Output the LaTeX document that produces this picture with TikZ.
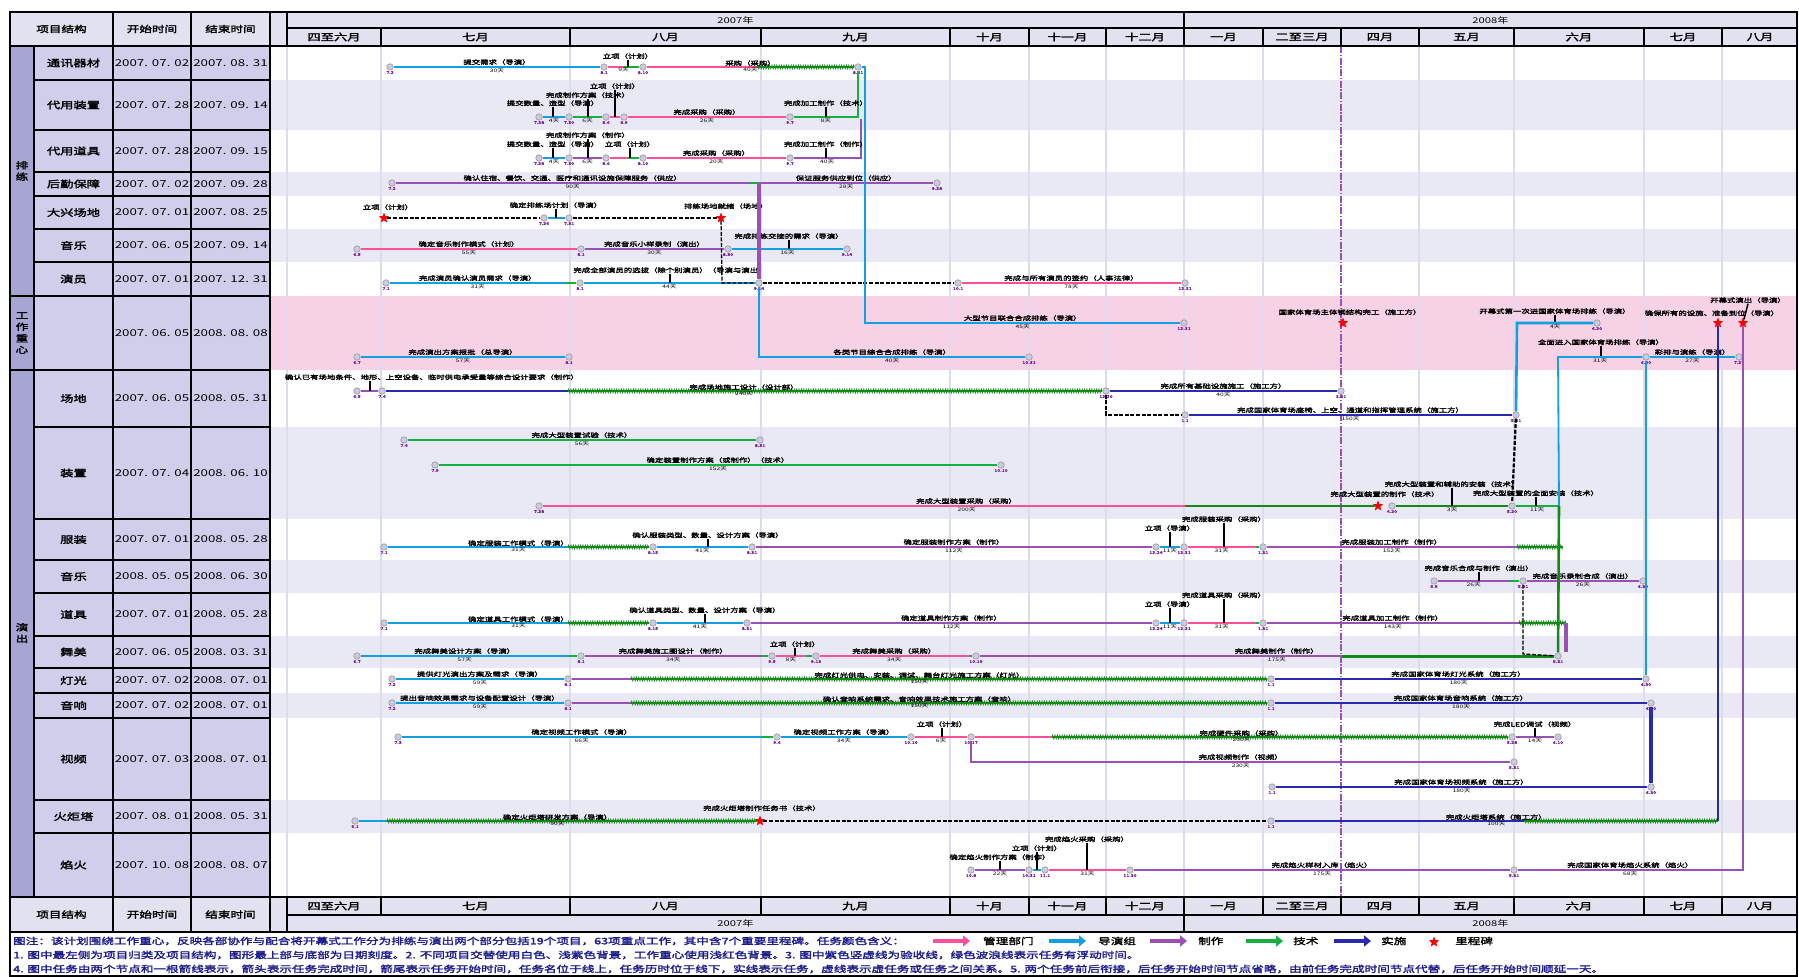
\documentclass[tikz,border=0pt]{standalone}
\usepackage{fontspec}
\setmainfont{Noto Sans CJK SC}[FakeStretch=1.4,AutoFakeBold=2.2]
\usetikzlibrary{shapes.geometric,decorations.pathmorphing,arrows.meta}
\definecolor{cpink}{HTML}{FF4F98}
\definecolor{cblue}{HTML}{12A0E0}
\definecolor{cpur}{HTML}{9B50B3}
\definecolor{cgrn}{HTML}{14B040}
\definecolor{zgrn}{HTML}{118A18}
\definecolor{cnavy}{HTML}{2A2AB0}
\definecolor{stripe}{HTML}{E9E9F5}
\definecolor{wcbg}{HTML}{F6D2E4}
\definecolor{cellc}{HTML}{CFCFEC}
\definecolor{grpc}{HTML}{A6A6D3}
\definecolor{hdrc}{HTML}{E1E1EF}
\definecolor{gridc}{HTML}{DCDCEE}
\definecolor{evtc}{HTML}{CACAE2}
\definecolor{dtc}{HTML}{7A1A9A}
\definecolor{legc}{HTML}{1C1C8C}
\tikzset{
  tl/.style={line width=2.6pt},
  evt/.style={circle,draw=gray!80,fill=evtc,inner sep=0pt,minimum size=6.5pt,line width=0.6pt},
  dt/.style={font=\fontsize{3.8}{4}\selectfont\bfseries,text=dtc,anchor=north,inner sep=0.4pt},
  nm/.style={font=\fontsize{6}{6}\selectfont\bfseries,above=0.3pt,inner sep=0.4pt,text=black},
  du/.style={font=\fontsize{4.8}{5}\selectfont,below=0.6pt,inner sep=0.4pt,text=black},
  stem/.style={line width=1.5pt,black},
  ms/.style={star,star points=5,star point ratio=2.3,fill=red,draw=none,minimum size=11pt,inner sep=0pt},
  dsh/.style={black,line width=1.8pt,dash pattern=on 4pt off 1.6pt},
  fl/.style={draw=zgrn,line width=2.2pt,decoration={zigzag,segment length=2.4pt,amplitude=1.8pt},postaction={draw=zgrn,line width=0.8pt,decorate}},
  tbl/.style={line width=2.4pt,black},
  hl/.style={line width=1.8pt,black},
  gridl/.style={line width=1.6pt,gridc},
  rt/.style={font=\fontsize{9.5}{10}\selectfont\bfseries,inner sep=0pt},
  dtt/.style={font=\fontsize{9.5}{10}\selectfont,inner sep=0pt},
  ht/.style={font=\fontsize{9}{10}\selectfont\bfseries,inner sep=0pt},
  mt/.style={font=\fontsize{9.5}{10}\selectfont\bfseries,inner sep=0pt},
  yt/.style={font=\fontsize{8}{9}\selectfont,inner sep=0pt},
  gt/.style={font=\fontsize{9}{11.5}\selectfont\bfseries,align=center,inner sep=0pt},
  lg/.style={font=\fontsize{9}{10}\selectfont\bfseries,text=legc,inner sep=0pt,anchor=west},
  lgk/.style={font=\fontsize{9}{10}\selectfont\bfseries,text=black,inner sep=0pt,anchor=west},
  legar/.style={line width=4pt,-{Triangle[length=7pt,width=11pt]}}
}
\newcommand\EVT[4]{\node[evt] (#1) at (#2,#3) {}; \node[dt] (#1d) at (#1.south) {#4};}
\newcommand\TSK[5]{\draw[tl,draw=#3] (#1) -- node[nm]{#4} node[du]{#5} (#2);}
\newcommand\ZZ[2]{\draw[fl] (#1) -- (#2);}
\newcommand\LBL[4]{\path (#1) -- node[nm]{#3} node[du]{#4} (#2);}
\newcommand\STM[5]{\node[nm,anchor=south] (#1) at (#2,#4) {#5}; \draw[stem] (#1.south) -- (#2,#3);}
\newcommand\ROWT[5]{\node[rt] (#1n) at (73.5,#2) {#3}; \node[dtt] (#1s) at (152,#2) {#4}; \node[dtt] (#1e) at (230.5,#2) {#5};}
\begin{document}
\begin{tikzpicture}[x=1pt,y=-1pt]
\fill[white] (0,0) rectangle (1799,977);
\useasboundingbox (0,0) rectangle (1799,977);
% ---------- backgrounds
\fill[hdrc] (10,12) rectangle (1797,46);
\fill[hdrc] (10,897) rectangle (1797,932);
\fill[grpc] (10,46) rectangle (34,897);
\fill[cellc] (34,46) rectangle (270,897);
\foreach \a/\b in {80/130,172/196,229/262,427/519,560/593,636/668,693/718,800/833}
  \fill[stripe] (270,\a) rectangle (1797,\b);
\fill[wcbg] (270,296) rectangle (1797,370);
\foreach \x in {287,381,570,761,950,1029,1106,1184,1263,1419,1514,1644,1722}
  \draw[gridl] (\x,46) -- (\x,897);
\draw[cpur,line width=1.5pt,dash pattern=on 7pt off 1.5pt on 1.5pt off 1.5pt] (1341,46) -- (1341,897);
% ---------- table lines
\foreach \y in {46,80,130,172,196,229,262,296,370,427,519,560,593,636,668,693,718,800,833,897}
  \draw[tbl] (34,\y) -- (270,\y);
\foreach \y in {46,296,370,897} \draw[tbl] (10,\y) -- (34,\y);
\foreach \x in {10,34,113,191,270} \draw[tbl] (\x,46) -- (\x,897);
\draw[tbl] (10,12) -- (1797,12);
\foreach \x in {10,113,191,270,287} {\draw[tbl] (\x,12) -- (\x,46); \draw[tbl] (\x,897) -- (\x,932);}
\draw[tbl] (287,28) -- (1797,28);
\draw[tbl] (10,46) -- (1797,46);
\draw[tbl] (10,897) -- (1797,897);
\draw[tbl] (287,915) -- (1797,915);
\draw[tbl] (10,932) -- (1797,932);
\draw[tbl] (1184,12) -- (1184,28);
\draw[tbl] (1184,915) -- (1184,932);
\foreach \x in {381,570,761,950,1029,1106,1184,1263,1341,1419,1514,1644,1722}
  {\draw[hl] (\x,28) -- (\x,46); \draw[hl] (\x,897) -- (\x,915);}
\draw[line width=2.6pt] (10,12) rectangle (1797,976);
% ---------- header texts
\node[ht] (hx1) at (61.5,29) {项目结构};
\node[ht] (hx2) at (152,29) {开始时间};
\node[ht] (hx3) at (230.5,29) {结束时间};
\node[ht] (bx1) at (61.5,914.5) {项目结构};
\node[ht] (bx2) at (152,914.5) {开始时间};
\node[ht] (bx3) at (230.5,914.5) {结束时间};
\node[yt] (y7t) at (735.5,20) {2007年};
\node[yt] (y8t) at (1490.5,20) {2008年};
\node[yt] (y7b) at (735.5,923.5) {2007年};
\node[yt] (y8b) at (1490.5,923.5) {2008年};
\foreach \x/\m [count=\i] in {334/四至六月,475.5/七月,665.5/八月,855.5/九月,989.5/十月,1067.5/十一月,1145/十二月,1223.5/一月,1302/二至三月,1380/四月,1466.5/五月,1579/六月,1683/七月,1760/八月}
  {\node[mt] (mt\i) at (\x,37) {\m}; \node[mt] (mb\i) at (\x,906) {\m};}
% ---------- group labels
\node[gt] (gp1) at (22,171) {排\\练};
\node[gt] (gp2) at (22,333) {工\\作\\重\\心};
\node[gt] (gp3) at (22,633) {演\\出};
% ---------- rows
\ROWT{r01}{63}{通讯器材}{2007. 07. 02}{2007. 08. 31}
\ROWT{r02}{105}{代用装置}{2007. 07. 28}{2007. 09. 14}
\ROWT{r03}{151}{代用道具}{2007. 07. 28}{2007. 09. 15}
\ROWT{r04}{184}{后勤保障}{2007. 07. 02}{2007. 09. 28}
\ROWT{r05}{212.5}{大兴场地}{2007. 07. 01}{2007. 08. 25}
\ROWT{r06}{245.5}{音乐}{2007. 06. 05}{2007. 09. 14}
\ROWT{r07}{279}{演员}{2007. 07. 01}{2007. 12. 31}
\ROWT{r08}{333}{}{2007. 06. 05}{2008. 08. 08}
\ROWT{r09}{398.5}{场地}{2007. 06. 05}{2008. 05. 31}
\ROWT{r10}{473}{装置}{2007. 07. 04}{2008. 06. 10}
\ROWT{r11}{539.5}{服装}{2007. 07. 01}{2008. 05. 28}
\ROWT{r12}{576.5}{音乐}{2008. 05. 05}{2008. 06. 30}
\ROWT{r13}{614.5}{道具}{2007. 07. 01}{2008. 05. 28}
\ROWT{r14}{652}{舞美}{2007. 06. 05}{2008. 03. 31}
\ROWT{r15}{680.5}{灯光}{2007. 07. 02}{2008. 07. 01}
\ROWT{r16}{705.5}{音响}{2007. 07. 02}{2008. 07. 01}
\ROWT{r17}{759}{视频}{2007. 07. 03}{2008. 07. 01}
\ROWT{r18}{816.5}{火炬塔}{2007. 08. 01}{2008. 05. 31}
\ROWT{r19}{865}{焰火}{2007. 10. 08}{2008. 08. 07}
% ================= TASKS =================
% 通讯器材
\EVT{a1}{390}{67}{7.2}
\EVT{a2}{604}{67}{8.1}
\EVT{a3}{643}{67}{8.10}
\EVT{a4}{858}{67}{8.31}
\coordinate (a2x) at (624,67);
\coordinate (a3x) at (757,67);
\coordinate (a4r) at (865,67);
\TSK{a1}{a2}{cblue}{提交需求（导演）}{30天}
\draw[tl,cpink] (a2) -- (a2x); \draw[tl,cgrn] (a2x) -- (a3);
\path (a2) -- node[du]{9天} (a3);
\STM{a2s}{628}{67}{60}{立项（计划）}
\draw[tl,cpink] (a3) -- (a3x); \ZZ{a3x}{a4}; \LBL{a3}{a4}{采购（采购）}{40天}
% 代用装置
\EVT{b1}{539}{117}{7.28}
\EVT{b2}{569}{117}{7.30}
\EVT{b3}{606}{117}{8.6}
\EVT{b4}{624}{117}{8.9}
\EVT{b5}{790}{117}{9.7}
\coordinate (b6) at (858,117);
\draw[tl,cblue] (b1) -- node[du]{4天} (b2);
\draw[tl,cgrn] (b2) -- node[du]{6天} (b3);
\draw[tl,cpink] (b3) -- (b4);
\TSK{b4}{b5}{cpink}{完成采购（采购）}{26天}
\draw[tl,cgrn] (b5) -- node[du]{8天} (b6) -- (a4);
\STM{b1s}{553}{117}{107}{提交数量、造型（导演）}
\STM{b2s}{588}{117}{99}{完成制作方案（技术）}
\STM{b3s}{615}{117}{90}{立项（计划）}
\STM{b5s}{826}{117}{107}{完成加工制作（技术）}
% 代用道具
\EVT{c1}{539}{158}{7.28}
\EVT{c2}{569}{158}{7.30}
\EVT{c3}{606}{158}{8.6}
\EVT{c4}{643}{158}{8.10}
\EVT{c5}{790}{158}{9.7}
\coordinate (c3x) at (628,158);
\coordinate (c6) at (861,158);
\coordinate (c7) at (861,119);
\draw[tl,cblue] (c1) -- node[du]{4天} (c2);
\draw[tl,cpur] (c2) -- node[du]{6天} (c3);
\draw[tl,cpink] (c3) -- (c3x); \draw[tl,cgrn] (c3x) -- (c4);
\TSK{c4}{c5}{cpink}{完成采购（采购）}{20天}
\draw[tl,cpur] (c5) -- node[du]{40天} (c6) -- (c7);
\STM{c1s}{553}{158}{148}{提交数量、造型（导演）}
\STM{c2s}{588}{158}{139}{完成制作方案（制作）}
\STM{c3s}{630}{158}{148}{立项（计划）}
\STM{c5s}{826}{158}{148}{完成加工制作（制作）}
% 后勤保障
\EVT{d1}{392}{183}{7.2}
\coordinate (d1x) at (750,183);
\coordinate (d2) at (759,183);
\EVT{d3}{937}{183}{9.28}
\draw[tl,cpur] (d1) -- node[nm]{确认住宿、餐饮、交通、医疗和通讯设施保障服务（供应）} node[du]{90天} (d1x);
\draw[tl,cgrn] (d1x) -- (d2);
\TSK{d2}{d3}{cpur}{保证服务供应到位（供应）}{28天}
% 大兴场地
\node[ms] (s1) at (384,218) {};
\node[nm,anchor=south] (s1l) at (388,211) {立项（计划）};
\EVT{s1a}{544}{218}{7.26}
\EVT{s1b}{569}{218}{7.31}
\draw[dsh] (s1) -- (s1a);
\draw[tl,cblue] (s1a) -- (s1b);
\STM{s1s}{556}{218}{209}{确定排练场计划（导演）}
\node[ms] (s2) at (721,218) {};
\node[nm,anchor=south] (s2l) at (726,210) {排练场地就绪（场地）};
\draw[dsh] (s1b) -- (s2);
% 音乐 (排练)
\EVT{f1}{357}{249}{6.5}
\EVT{f2}{581}{249}{8.1}
\EVT{f3}{728}{249}{8.30}
\EVT{f4}{847}{249}{9.14}
\TSK{f1}{f2}{cpink}{确定音乐制作模式（计划）}{55天}
\TSK{f2}{f3}{cpur}{完成音乐小样录制（演出）}{30天}
\draw[tl,cblue] (f3) -- node[du]{16天} (f4);
\STM{f3s}{789}{249}{240}{完成排练交接的需求（导演）}
% 演员
\EVT{e1}{386}{283}{7.1}
\coordinate (e1x) at (566,283);
\EVT{e2}{580}{283}{8.1}
\EVT{e3}{759}{283}{9.14}
\EVT{e4}{958}{283}{10.1}
\EVT{e5}{1185}{283}{12.31}
\draw[tl,cblue] (e1) -- node[nm]{完成演员确认演员需求（导演）} node[du]{31天} (e1x);
\draw[tl,cgrn] (e1x) -- (e2);
\draw[tl,cblue] (e2) -- node[du]{44天} (e3);
\STM{e2s}{670}{283}{274}{完成全部演员的选拔（除个别演员）（导演与演出）}
\draw[dsh,line width=1.3pt] (e3) -- (e4);
\TSK{e4}{e5}{cpink}{完成与所有演员的签约（人事法律）}{78天}
\coordinate (s2d) at (722,283);
\draw[dsh,line width=1.3pt] (s2) -- (s2d) -- (e3);
\draw[line width=3.5pt,cpur] (d2) -- (e3);
% 工作重心
\EVT{g1}{357}{357}{6.7}
\EVT{g2}{569}{357}{8.1}
\TSK{g1}{g2}{cblue}{完成演出方案报批（总导演）}{57天}
\EVT{g3}{1184}{323}{12.31}
\draw[tl,cblue] (a4) -- (a4r) |- node[pos=0.75,nm]{大型节目联合合成排练（导演）} node[pos=0.75,du]{45天} (g3);
\EVT{g4}{1029}{357}{10.31}
\coordinate (e3b) at (759,357);
\draw[tl,cblue] (e3) -- (e3b) -- node[nm]{各类节目综合合成排练（导演）} node[du]{40天} (g4);
\node[ms] (g5) at (1343,323) {};
\node[nm,anchor=south] (g5l) at (1350,316) {国家体育场主体钢结构完工（施工方）};
\EVT{g6}{1597}{323}{6.20}
\coordinate (g6a) at (1517,323);
\EVT{g7}{1646}{357}{6.30}
\coordinate (g7a) at (1558,357);
\EVT{g8}{1739}{357}{7.27}
\node[ms] (g9) at (1718,323) {};
\node[ms] (g10) at (1743,323) {};
\TSK{g7}{g8}{cblue}{彩排与演练（导演）}{27天}
\STM{g6s}{1555}{323}{315}{开幕式第一次进国家体育场排练（导演）}
\STM{g7s}{1601}{357}{346}{全面进入国家体育场排练（导演）}
\node[nm,anchor=south] (g9l) at (1712,317) {确保所有的设施、准备到位（导演）};
\node[nm,anchor=south] (g10l) at (1748,304) {开幕式演出（导演）};
\draw[stem] (g10l.south) -- (g10);
% 场地
\EVT{h1}{357}{391}{6.5}
\EVT{h2}{382}{391}{7.4}
\draw[tl,cpur] (h1) -- (h2);
\node[nm,anchor=south] (h1l) at (432,381) {确认已有场地条件、地形、上空设备、临时供电承受量等综合设计要求（制作）};
\coordinate (h1t) at (370,381); \coordinate (h1b) at (370,391);
\draw[stem] (h1t) -- (h1b);
\coordinate (h2x) at (568,391);
\EVT{h3}{1106}{391}{12.20}
\draw[tl,cnavy] (h2) -- (h2x); \ZZ{h2x}{h3};
\LBL{h2}{h3}{完成场地施工设计（设计部）}{240天}
\EVT{h4a}{1341}{391}{3.31}
\TSK{h3}{h4a}{cnavy}{完成所有基础设施施工（施工方）}{40天}
\EVT{h5}{1185}{415}{1.1}
\EVT{h4}{1516}{415}{5.31}
\coordinate (h3d) at (1106,415);
\draw[dsh] (h3) -- (h3d) -- (h5);
\TSK{h5}{h4}{cnavy}{完成国家体育场座椅、上空、通道和指挥管理系统（施工方）}{150天}
\draw[tl,cblue] (h4) -- (g6a) -- node[du]{4天} (g6);
% 装置
\EVT{i1}{404}{440}{7.4}
\EVT{i2}{760}{440}{8.31}
\TSK{i1}{i2}{cgrn}{完成大型装置试验（技术）}{56天}
\EVT{i3}{435}{465}{7.9}
\EVT{i4}{1001}{465}{10.10}
\TSK{i3}{i4}{cgrn}{确定装置制作方案（或制作）（技术）}{152天}
\EVT{i5}{539}{506}{7.28}
\coordinate (i5x) at (1185,506);
\draw[tl,cpink] (i5) -- node[pos=0.66,nm]{完成大型装置采购（采购）} node[pos=0.66,du]{200天} (i5x);
\node[ms] (i6) at (1378,506) {};
\draw[tl,zgrn] (i5x) -- (i6);
\node[nm,anchor=south] (i6l) at (1385,498) {完成大型装置的制作（技术）};
\EVT{i7}{1392}{506}{4.20}
\EVT{i8}{1512}{506}{5.20}
\draw[tl,zgrn] (i7) -- node[du]{3天} (i8);
\STM{i7s}{1452}{506}{488}{完成大型装置和辅助的安装（技术）}
\coordinate (i9) at (1559,506);
\draw[tl,cgrn] (i8) -- node[du]{11天} (i9);
\STM{i8s}{1536}{506}{497}{完成大型装置的全面安装（技术）}
\draw[dsh,line width=2.2pt] (h4) -- (i8);
\draw[line width=1.8pt,cblue] (i9) -- (g7a) -- node[du]{31天} (g7);
% 服装
\EVT{j1}{384}{547}{7.1}
\coordinate (j1x) at (568,547);
\EVT{j2}{653}{547}{8.15}
\EVT{j3}{752}{547}{8.31}
\EVT{j4}{1156}{547}{12.24}
\EVT{j5}{1184}{547}{12.31}
\coordinate (j5x) at (1256,547);
\EVT{j6}{1263}{547}{1.31}
\coordinate (j6x) at (1517,547);
\coordinate (j7) at (1563,547);
\draw[tl,cblue] (j1) -- (j1x); \ZZ{j1x}{j2};
\LBL{j1}{j2}{确定服装工作模式（导演）}{31天}
\draw[tl,cblue] (j2) -- node[du]{41天} (j3);
\STM{j2s}{708}{547}{539}{确认服装类型、数量、设计方案（导演）}
\TSK{j3}{j4}{cpur}{确定服装制作方案（制作）}{112天}
\draw[tl,cblue] (j4) -- node[du]{11天} (j5);
\STM{j4s}{1170}{547}{532}{立项（导演）}
\draw[tl,cpink] (j5) -- node[du]{31天} (j5x); \draw[tl,cgrn] (j5x) -- (j6);
\STM{j5s}{1224}{547}{523}{完成服装采购（采购）}
\draw[tl,cpur] (j6) -- node[nm]{完成服装加工制作（制作）} node[du]{152天} (j6x);
\ZZ{j6x}{j7};
% 音乐 (演出)
\EVT{k1}{1434}{581}{5.5}
\coordinate (k1x) at (1510,581);
\EVT{k2}{1523}{581}{5.31}
\EVT{k3}{1643}{581}{6.30}
\draw[tl,cpur] (k1) -- node[du]{26天} (k1x); \draw[tl,cgrn] (k1x) -- (k2);
\STM{k1s}{1479}{581}{572}{完成音乐合成与制作（演出）}
\TSK{k2}{k3}{cpur}{完成音乐录制合成（演出）}{26天}
% 道具
\EVT{l1}{384}{623}{7.1}
\coordinate (l1x) at (568,623);
\EVT{l2}{653}{623}{8.15}
\EVT{l3}{747}{623}{8.31}
\EVT{l4}{1156}{623}{12.24}
\EVT{l5}{1184}{623}{12.31}
\coordinate (l5x) at (1256,623);
\EVT{l6}{1263}{623}{1.31}
\coordinate (l6x) at (1519,623);
\coordinate (l7) at (1566,623);
\coordinate (l8) at (1566,652);
\draw[tl,cblue] (l1) -- (l1x); \ZZ{l1x}{l2};
\LBL{l1}{l2}{确定道具工作模式（导演）}{31天}
\draw[tl,cblue] (l2) -- node[du]{41天} (l3);
\STM{l2s}{705}{623}{614}{确认道具类型、数量、设计方案（导演）}
\TSK{l3}{l4}{cpur}{确定道具制作方案（制作）}{112天}
\draw[tl,cblue] (l4) -- node[du]{11天} (l5);
\STM{l4s}{1170}{623}{608}{立项（导演）}
\draw[tl,cpink] (l5) -- node[du]{31天} (l5x); \draw[tl,cgrn] (l5x) -- (l6);
\STM{l5s}{1224}{623}{599}{完成道具采购（采购）}
\draw[tl,cpur] (l6) -- node[nm]{完成道具加工制作（制作）} node[du]{143天} (l6x);
\ZZ{l6x}{l7};
\draw[line width=3.2pt,cpur] (l7) -- (l8);
% 舞美
\EVT{m1}{357}{656}{6.7}
\coordinate (m1x) at (569,656);
\EVT{m2}{581}{656}{8.1}
\coordinate (m2x) at (762,656);
\EVT{m3}{772}{656}{9.5}
\coordinate (m3x) at (806,656);
\EVT{m4}{816}{656}{9.13}
\coordinate (m4x) at (969,656);
\EVT{m5}{976}{656}{10.19}
\coordinate (m5x) at (1342,656);
\EVT{m6}{1558}{656}{5.31}
\draw[tl,cblue] (m1) -- node[nm]{完成舞美设计方案（导演）} node[du]{57天} (m1x); \draw[tl,cgrn] (m1x) -- (m2);
\draw[tl,cpur] (m2) -- node[nm]{完成舞美施工图设计（制作）} node[du]{34天} (m2x); \draw[tl,cgrn] (m2x) -- (m3);
\draw[tl,cpink] (m3) -- node[du]{8天} (m3x); \draw[tl,cgrn] (m3x) -- (m4);
\STM{m3s}{795}{656}{648}{立项（计划）}
\draw[tl,cpink] (m4) -- node[nm]{完成舞美采购（采购）} node[du]{34天} (m4x); \draw[tl,cgrn] (m4x) -- (m5);
\draw[tl,cpur] (m5) -- node[pos=0.82,nm]{完成舞美制作（制作）} node[pos=0.82,du]{175天} (m5x);
\draw[line width=3pt,zgrn] (m5x) -- (m6);
\draw[tl,zgrn] (i9) -- (m6);
\coordinate (k2d) at (1523,654);
\draw[dsh,line width=1.3pt] (k2) -- (k2d) -- (m6);
% 灯光
\EVT{n1}{392}{679}{7.2}
\EVT{n2}{568}{679}{8.1}
\coordinate (n2x) at (631,679);
\EVT{n3}{1271}{679}{1.1}
\EVT{n4}{1646}{679}{6.30}
\TSK{n1}{n2}{cblue}{提供灯光演出方案及需求（导演）}{59天}
\draw[tl,cpur] (n2) -- (n2x); \ZZ{n2x}{n3};
\LBL{n2}{n3}{完成灯光供电、安装、调试、舞台灯光施工方案（灯光）}{150天}
\TSK{n3}{n4}{cnavy}{完成国家体育场灯光系统（施工方）}{180天}
\draw[line width=1.8pt,cblue] (n4) -- (g7);
% 音响
\EVT{o1}{392}{703}{7.2}
\EVT{o2}{568}{703}{8.1}
\coordinate (o2x) at (631,703);
\EVT{o3}{1271}{703}{1.1}
\EVT{o4}{1651}{703}{6.30}
\TSK{o1}{o2}{cblue}{提出音响效果需求与设备配置设计（导演）}{59天}
\draw[tl,cpur] (o2) -- (o2x); \ZZ{o2x}{o3};
\LBL{o2}{o3}{确认音响系统需求、音响效果技术施工方案（音响）}{150天}
\TSK{o3}{o4}{cnavy}{完成国家体育场音响系统（施工方）}{180天}
% 视频
\EVT{p1}{398}{737}{7.3}
\coordinate (p1x) at (762,737);
\EVT{p2}{777}{737}{9.6}
\EVT{p3}{911}{737}{10.10}
\EVT{p4}{971}{737}{10.17}
\coordinate (p4x) at (1052,737);
\EVT{p5}{1512}{737}{5.28}
\EVT{p6}{1558}{737}{6.10}
\draw[tl,cblue] (p1) -- node[nm]{确定视频工作模式（导演）} node[du]{66天} (p1x); \draw[tl,cgrn] (p1x) -- (p2);
\TSK{p2}{p3}{cblue}{确定视频工作方案（导演）}{34天}
\draw[tl,cpink] (p3) -- node[du]{6天} (p4);
\STM{p3s}{942}{737}{728}{立项（计划）}
\draw[tl,cpink] (p4) -- (p4x); \ZZ{p4x}{p5};
\LBL{p4}{p5}{完成硬件采购（采购）}{200天}
\draw[tl,cpur] (p5) -- node[du]{14天} (p6);
\STM{p5s}{1535}{737}{728}{完成LED调试（视频）}
\EVT{p7}{1514}{762}{5.31}
\coordinate (p4d) at (971,762);
\draw[tl,cpur] (p4) -- (p4d) -- node[nm]{完成视频制作（视频）} node[du]{230天} (p7);
\EVT{p8}{1272}{787}{1.1}
\EVT{p9}{1651}{787}{6.30}
\TSK{p8}{p9}{cnavy}{完成国家体育场视频系统（施工方）}{180天}
\draw[line width=3.2pt,cnavy] (p9) -- (o4);
% 火炬塔
\EVT{q1}{355}{821}{6.1}
\coordinate (q1x) at (387,821);
\node[ms] (q2) at (760,821) {};
\draw[tl,cblue] (q1) -- (q1x); \ZZ{q1x}{q2};
\LBL{q1}{q2}{确定火炬塔研发方案（导演）}{90天}
\node[nm,anchor=south] (q2l) at (762,812) {完成火炬塔制作任务书（技术）};
\EVT{q3}{1271}{821}{1.1}
\draw[dsh] (q2) -- (q3);
\coordinate (q3x) at (1524,821);
\coordinate (q5) at (1718,821);
\draw[tl,cnavy] (q3) -- (q3x); \ZZ{q3x}{q5};
\LBL{q3}{q5}{完成火炬塔系统（施工方）}{100天}
\draw[line width=1.8pt,cnavy] (q5) -- (g9);
% 焰火
\EVT{r1}{971}{870}{10.8}
\EVT{r2}{1029}{870}{10.31}
\EVT{r3}{1045}{870}{11.1}
\EVT{r4}{1130}{870}{11.30}
\EVT{r5}{1514}{870}{5.31}
\coordinate (r6) at (1743,870);
\draw[tl,cpur] (r1) -- node[du]{22天} (r2);
\STM{r1s}{1000}{870}{861}{确定焰火制作方案（制作）}
\draw[tl,cblue] (r2) -- (r3);
\STM{r2s}{1037}{870}{852}{立项（计划）}
\draw[tl,cpink] (r3) -- node[du]{31天} (r4);
\STM{r3s}{1087}{870}{843}{完成焰火采购（采购）}
\TSK{r4}{r5}{cpur}{完成焰火样材入库（焰火）}{175天}
\draw[tl,cpur] (r5) -- node[nm]{完成国家体育场焰火系统（焰火）} node[du]{68天} (r6) -- (g10);
% ================= LEGEND =================
\node[lg] (lg1) at (13,941) {图注：该计划围绕工作重心，反映各部协作与配合将开幕式工作分为排练与演出两个部分包括19个项目，63项重点工作，其中含7个重要里程碑。任务颜色含义：};
\node[lg] (lg2) at (13,955) {1. 图中最左侧为项目归类及项目结构，图形最上部与底部为日期刻度。2. 不同项目交替使用白色、浅紫色背景，工作重心使用浅红色背景。3. 图中紫色竖虚线为验收线，绿色波浪线表示任务有浮动时间。};
\node[lg] (lg3) at (13,969) {4. 图中任务由两个节点和一根箭线表示，箭头表示任务完成时间，箭尾表示任务开始时间，任务名位于线上，任务历时位于线下，实线表示任务，虚线表示虚任务或任务之间关系。5. 两个任务前后衔接，后任务开始时间节点省略，由前任务完成时间节点代替，后任务开始时间顺延一天。};
\coordinate (la1) at (933,941); \coordinate (la2) at (970,941);
\coordinate (lb1) at (1049,941); \coordinate (lb2) at (1086,941);
\coordinate (lc1) at (1150,941); \coordinate (lc2) at (1187,941);
\coordinate (ld1) at (1246,941); \coordinate (ld2) at (1283,941);
\coordinate (le1) at (1334,941); \coordinate (le2) at (1371,941);
\draw[legar,cpink] (la1) -- (la2); \node[lgk] (lat) at (983,941) {管理部门};
\draw[legar,cblue] (lb1) -- (lb2); \node[lgk] (lbt) at (1098,941) {导演组};
\draw[legar,cpur] (lc1) -- (lc2); \node[lgk] (lct) at (1198,941) {制作};
\draw[legar,cgrn] (ld1) -- (ld2); \node[lgk] (ldt) at (1293,941) {技术};
\draw[legar,cnavy] (le1) -- (le2); \node[lgk] (let) at (1381,941) {实施};
\node[ms] (lfs) at (1434,942) {}; \node[lgk] (lft) at (1455,941) {里程碑};
\end{tikzpicture}
\end{document}
